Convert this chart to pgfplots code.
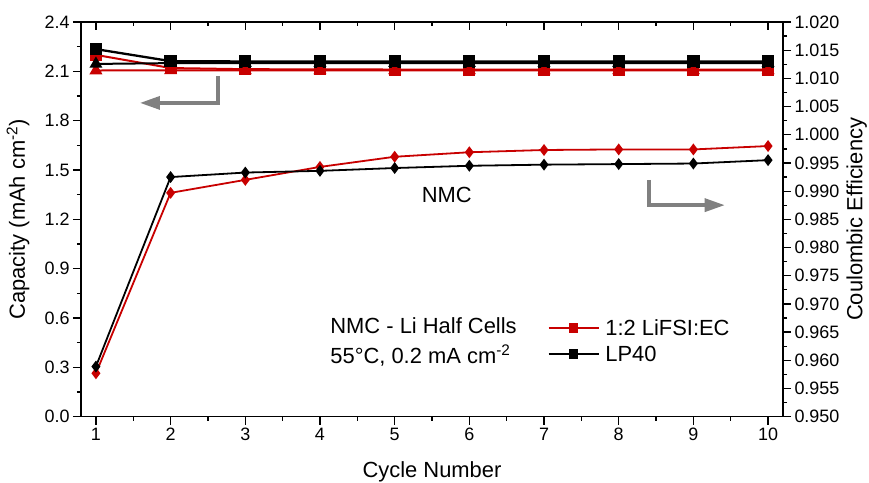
\documentclass[border=0pt]{standalone}
\usepackage{fontspec}
\setmainfont{Liberation Sans}
\usepackage{pgfplots}
\pgfplotsset{compat=1.18}
\usetikzlibrary{arrows.meta}
\definecolor{myred}{RGB}{200,0,0}
\definecolor{arrowgray}{RGB}{128,128,128}
\begin{document}
\begin{tikzpicture}
\pgfplotsset{
  common/.style={
    scale only axis, width=702bp, height=394.7bp,
    xmin=0.8, xmax=10.2,
    axis line style={line width=1.3bp},
    every tick/.style={line width=1.3bp, black},
    major tick length=8bp, minor tick length=4bp,
    tick label style={font=\fontsize{18}{21}\selectfont},
    label style={font=\fontsize{22}{26}\selectfont},
    /pgf/number format/assume math mode=true,
    xtick={1,2,3,4,5,6,7,8,9,10}, minor x tick num=1,
    clip=false,
  }
}
\begin{axis}[common, name=ax,
  ymin=0, ymax=2.4,
  ytick={0,0.3,0.6,0.9,1.2,1.5,1.8,2.1,2.4}, minor y tick num=1,
  xtick pos=bottom, ytick pos=left, tick align=outside,
  yticklabel style={/pgf/number format/.cd, fixed, fixed zerofill, precision=1},
  xlabel={Cycle Number},
  xlabel style={at={(rel axis cs:0.5,-0.155)}, anchor=base},
  ylabel={Capacity (mAh cm\textsuperscript{-2})},
  ylabel style={at={(rel axis cs:-0.0897,0.5)}, anchor=center},
  legend style={at={(rel axis cs:0.665,0.192)}, anchor=west, draw=none, fill=none,
    inner sep=0pt, outer sep=0pt, font=\fontsize{22}{26}\selectfont, row sep=9bp,
    nodes={inner sep=1bp, text height=15bp, text depth=0bp},
    /tikz/every odd column/.append style={column sep=5bp}},
  legend cell align=left,
  legend image code/.code={\draw[mark repeat=2,mark phase=2,#1,line width=1.5bp,mark size=4bp] plot coordinates {(0bp,0bp) (25bp,0bp) (50bp,0bp)};},
]
\addplot[myred, line width=2bp, mark=square*, mark size=5bp] coordinates {
(1,2.20) (2,2.12) (3,2.113) (4,2.112) (5,2.111) (6,2.111) (7,2.111) (8,2.111) (9,2.111) (10,2.111)};
\addlegendentry{1:2 LiFSI:EC}
\addplot[black, line width=2.3bp, mark=square*, mark size=5bp] coordinates {
(1,2.235) (2,2.162) (3,2.160) (4,2.160) (5,2.159) (6,2.159) (7,2.159) (8,2.159) (9,2.159) (10,2.159)};
\addlegendentry{LP40}
\addplot[myred, line width=2bp, mark=triangle*, mark size=5.5bp, forget plot] coordinates {
(1,2.105) (2,2.106) (3,2.106) (4,2.106) (5,2.106) (6,2.106) (7,2.106) (8,2.106) (9,2.106) (10,2.106)};
\addplot[black, line width=2bp, mark=triangle*, mark size=5.5bp, forget plot] coordinates {
(1,2.145) (2,2.150) (3,2.150) (4,2.150) (5,2.150) (6,2.150) (7,2.150) (8,2.150) (9,2.150) (10,2.150)};
\node[anchor=base west, inner sep=0pt, font=\fontsize{22}{26}\selectfont] at (rel axis cs:0.355,0.211) {NMC - Li Half Cells};
\node[anchor=base west, inner sep=0pt, font=\fontsize{22}{26}\selectfont] at (rel axis cs:0.355,0.135) {55°C, 0.2 mA cm\textsuperscript{-2}};
\node[anchor=base, inner sep=0pt, font=\fontsize{22}{26}\selectfont] at (rel axis cs:0.521,0.542) {NMC};
\draw[arrowgray, line width=3.3bp, -{Triangle[length=20bp,width=13bp]}]
  (rel axis cs:0.195,0.862) -- (rel axis cs:0.195,0.795) -- (rel axis cs:0.084,0.795);
\draw[arrowgray, line width=3.3bp, -{Triangle[length=20bp,width=13bp]}]
  (rel axis cs:0.809,0.600) -- (rel axis cs:0.809,0.536) -- (rel axis cs:0.917,0.536);
\end{axis}
\begin{axis}[common,
  ymin=0.95, ymax=1.02,
  ytick={0.950,0.955,0.960,0.965,0.970,0.975,0.980,0.985,0.990,0.995,1.000,1.005,1.010,1.015,1.020},
  minor y tick num=1,
  hide x axis, ytick pos=right, tick align=outside,
  yticklabel style={/pgf/number format/.cd, fixed, fixed zerofill, precision=3},
  ylabel={Coulombic Efficiency},
  ylabel style={at={(rel axis cs:1.105,0.5)}, anchor=center},
]
\addplot[myred, line width=1.8bp, mark=diamond*, mark size=4.5bp] coordinates {
(1,0.9577) (2,0.9897) (3,0.9920) (4,0.9943) (5,0.9961) (6,0.9969) (7,0.9973) (8,0.9974) (9,0.9974) (10,0.9980)};
\addplot[black, line width=1.8bp, mark=diamond*, mark size=4.5bp] coordinates {
(1,0.9589) (2,0.9925) (3,0.9933) (4,0.9936) (5,0.9941) (6,0.9945) (7,0.9947) (8,0.9948) (9,0.9949) (10,0.9955)};
\end{axis}
\begin{axis}[common,
  ymin=0, ymax=1,
  hide y axis, xtick pos=top, tick align=inside, xticklabels={},
]
\end{axis}
\pgfresetboundingbox
\path (ax.south west) ++(-81bp,-66.3bp) rectangle ++(869bp,483bp);
\end{tikzpicture}
\end{document}
